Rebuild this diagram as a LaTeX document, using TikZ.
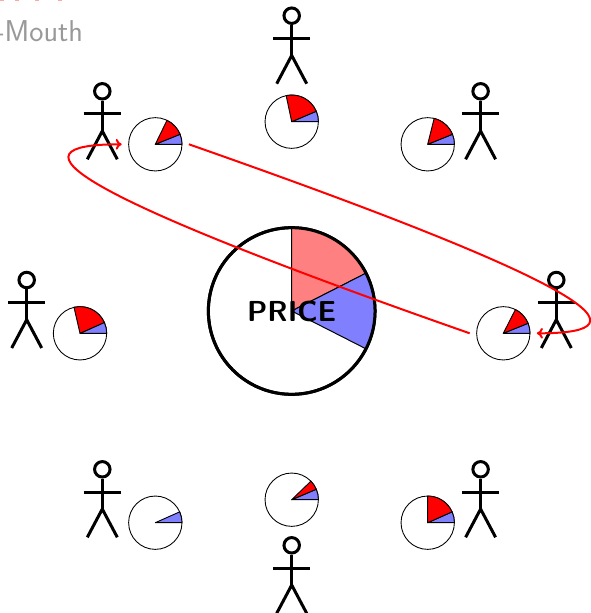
\documentclass[tikz,border=0pt]{standalone}
\usepackage{fontspec}
\usetikzlibrary{arrows.meta}
\definecolor{wred}{rgb}{1,0,0}
\definecolor{wblue}{rgb}{.5,.5,1}
\definecolor{wpink}{rgb}{1,.5,.5}
\definecolor{wgray}{gray}{.6}
\tikzset{
  x=.75pt,y=.75pt,
  pieframe/.style={circle,draw=black,line width=.65pt,minimum size=40pt,inner sep=0pt,outer sep=5.2pt},
  bigframe/.style={circle,draw=black,line width=2.25pt,minimum size=125pt,inner sep=0pt},
  slice/.style={draw=black,line width=.7pt,line join=round},
  bigslice/.style={draw=black,line width=.75pt},
  figure line/.style={line width=2.25pt,draw=black,line cap=butt},
  buzz/.style={draw=wred,line width=1.5pt,-{Computer Modern Rightarrow[length=4.5pt,width=8pt]}},
  stub/.style={fill=wpink,opacity=.7}
}
% small pie: name, x, y, blue end angle, red end angle (red drawn when > blue)
\newcommand{\smallpie}[5]{%
  \node[pieframe] (#1) at (#2,-#3) {};
  \fill[wblue,slice] (#1.center) -- ++(0:26.7) arc[start angle=0,end angle=#4,radius=26.7] -- cycle;
  \ifdim #5pt>#4pt
    \path[fill=wred,slice] (#1.center) -- ++(#4:26.7) arc[start angle=#4,end angle=#5,radius=26.7] -- cycle;
  \fi}
% stick figure: head centre
\newcommand{\stick}[3]{%
  \node[circle,draw=black,line width=2.25pt,minimum size=11.6pt,inner sep=0pt] (#1) at (#2,-#3) {};
  \draw[figure line] (#1.south) -- ++(0,-30.5) coordinate (#1hip);
  \draw[figure line] ([shift={(-18.7,-22.7)}]#1.center) -- ([shift={(18.7,-22.7)}]#1.center);
  \draw[figure line,line join=miter] ([shift={(-15,-68)}]#1.center) -- (#1hip) -- ([shift={(15,-68)}]#1.center);}
\begin{document}
\begin{tikzpicture}
\useasboundingbox (0,0) rectangle (591,-613);
\foreach \sx in {0,15,35,58}{\path[stub] (\sx,0) rectangle ++(3.5,-1.2);}
\node[anchor=base west,inner sep=0pt,text=wgray,font=\fontsize{22.6pt}{26pt}\sffamily] (title) at (-5,-41.4) {-Mouth};
% big pie
\node[bigframe] (price) at (291.7,-311) {};
\fill[wpink,bigslice] (price.center) -- ++(90:83.3) arc[start angle=90,end angle=27,radius=83.3] -- cycle;
\fill[wblue,bigslice] (price.center) -- ++(27:83.3) arc[start angle=27,end angle=-27,radius=83.3] -- cycle;
\node[circle,draw=black,line width=2.25pt,minimum size=125pt,inner sep=0pt] (pricering) at (price.center) {};
\node[font=\fontsize{21.7pt}{24pt}\sffamily\bfseries,inner sep=0pt] (pricelabel) at (price.center) {PRICE};
% small pies
\smallpie{tl}{155.3}{144.3}{22}{64}
\smallpie{tp}{291.7}{121.7}{23}{102}
\smallpie{tr}{427.7}{144.3}{22}{76}
\smallpie{rt}{503.3}{333.3}{22}{63}
\smallpie{lf}{80}{333.3}{24}{103}
\smallpie{bl}{155.3}{522.7}{24}{24}
\smallpie{bt}{291.7}{499.7}{23}{44}
\smallpie{br}{427.7}{522.7}{24}{90}
% figures
\stick{ftl}{102.3}{91.3}
\stick{ftp}{291.7}{15.7}
\stick{ftr}{480.6}{91.3}
\stick{frt}{556.3}{280}
\stick{flf}{26.7}{280}
\stick{fbl}{102.3}{469.3}
\stick{fbt}{291.7}{545.3}
\stick{fbr}{480.6}{469.3}
% connectors
\draw[buzz] (tl.east) .. controls +(400,-140) and +(118,0) .. (rt.east);
\draw[buzz] (rt.west) .. controls +(-400,140) and +(-118,0) .. (tl.west);
\end{tikzpicture}
\end{document}
